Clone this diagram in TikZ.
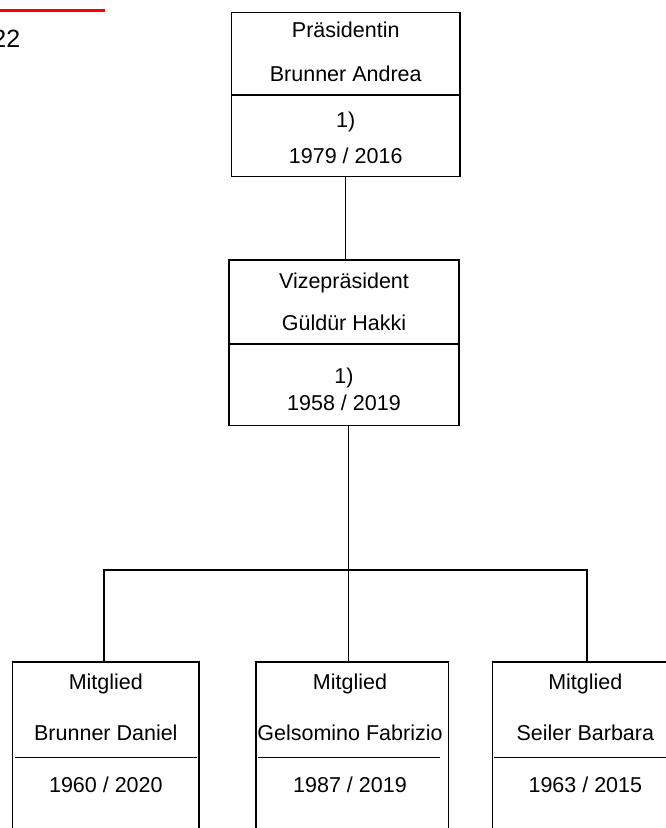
\documentclass[tikz,border=0pt]{standalone}
\usepackage{fontspec}
\setmainfont{Liberation Sans}
\usepackage{tikz}
\usetikzlibrary{positioning}
\tikzstyle{office} = [rectangle, 
draw=black, 
line width=1.3pt, 
inner sep=0pt]
\tikzstyle{member} = [rectangle, 
draw=black, 
line width=1.3pt, 
minimum height=218pt, 
inner sep=0pt]
\tikzstyle{entry} = [anchor=base, 
inner sep=0pt, 
font=\fontsize{21.5}{25}\selectfont]
\tikzstyle{divider} = [line width=1.3pt]
\tikzstyle{link} = [line width=1.3pt]

\begin{document}
\begin{tikzpicture}[x=1pt, y=-1pt]
\clip (0,0) rectangle (666,828);

% heading remains at the top left
\draw [red, line width=2.7pt] (0,10.7) -- (105,10.7);
\node (pageno) [anchor=base east, inner sep=0pt, font=\fontsize{25}{30}\selectfont] at (20.5,47.3) {22};

\node (praes) [office, minimum width=228.5pt, minimum height=164.4pt] at (345.75,94.5) {};
\node (vize) [office, minimum width=230pt, minimum height=165.7pt] at (344,342.85) {};

\node (m1) [member, minimum width=186.3pt] at (105.85,770.85) {};
\node (m2) [member, minimum width=192.3pt] at (352.15,770.85) {};
\node (m3) [member, minimum width=185.3pt] at (585.35,770.85) {};

\draw [divider] (praes.west |- 0,95) -- (praes.east |- 0,95);
\draw [divider] (vize.west |- 0,344) -- (vize.east |- 0,344);
\draw [divider] (14.7,757.7) -- (197,757.7);
\draw [divider] (258,757.7) -- (440,757.7);
\draw [divider] (494,757.7) -- (666,757.7);

\node (praes-role) [entry] at (345.75,37.5) {Präsidentin};
\node (praes-name) [entry] at (345.75,81.5) {Brunner Andrea};
\node (praes-note) [entry] at (345.75,127.5) {1)};
\node (praes-years) [entry] at (345.75,163) {1979 / 2016};

\node (vize-role) [entry] at (344,288.5) {Vizepräsident};
\node (vize-name) [entry] at (344,330) {Güldür Hakki};
\node (vize-note) [entry] at (344,383) {1)};
\node (vize-years) [entry] at (344,410) {1958 / 2019};

\node (m1-role) [entry] at (105.85,689) {Mitglied};
\node (m1-name) [entry] at (105.85,740) {Brunner Daniel};
\node (m1-years) [entry] at (105.85,792) {1960 / 2020};

\node (m2-role) [entry] at (350,689) {Mitglied};
\node (m2-name) [entry] at (350,740) {Gelsomino Fabrizio};
\node (m2-years) [entry] at (350,792) {1987 / 2019};

\node (m3-role) [entry] at (585.35,689) {Mitglied};
\node (m3-name) [entry] at (585.35,740) {Seiler Barbara};
\node (m3-years) [entry] at (585.35,792) {1963 / 2015};

\coordinate (bus) at (348.5,570);

\draw [link] (praes.south) -- (praes.south |- vize.north);
\draw [link] (vize.south -| bus) -- (bus);
\draw [link] (m1.north -| 104,0) |- (bus) -| (m3.north -| 587,0);
\draw [link] (bus) -- (bus |- m2.north);

\end{tikzpicture}
\end{document}
